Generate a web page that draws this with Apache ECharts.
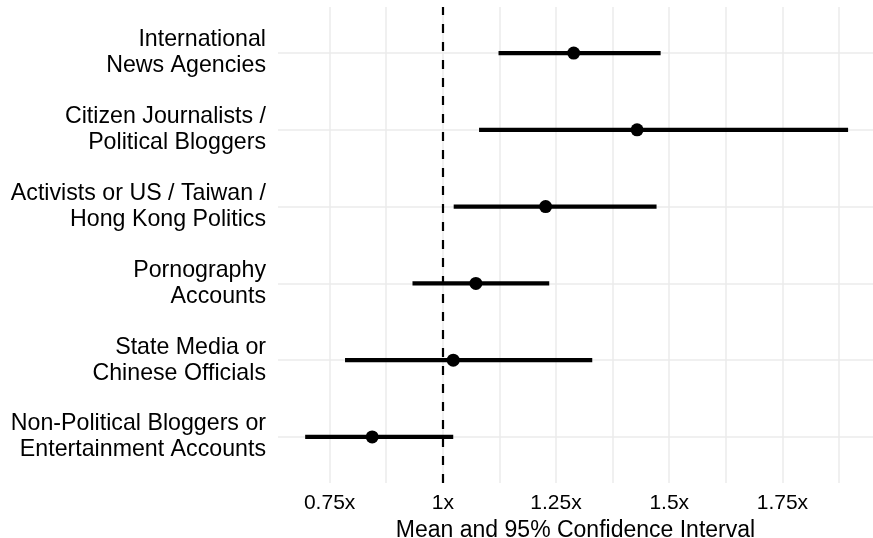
<!DOCTYPE html>
<html><head><meta charset="utf-8">
<script src="https://cdn.jsdelivr.net/npm/echarts@6/dist/echarts.min.js"></script>
<style>html,body{margin:0;padding:0;background:#fff}#c{width:873px;height:538px}</style>
</head><body><div id="c"></div>
<script>
// Categories listed top to bottom
const categories = [
  "International\nNews Agencies",
  "Citizen Journalists /\nPolitical Bloggers",
  "Activists or US / Taiwan /\nHong Kong Politics",
  "Pornography\nAccounts",
  "State Media or\nChinese Officials",
  "Non-Political Bloggers or\nEntertainment Accounts"
];
const means = [1.289, 1.429, 1.227, 1.073, 1.023, 0.844];
const lower = [1.123, 1.080, 1.024, 0.933, 0.784, 0.696];
const upper = [1.481, 1.895, 1.472, 1.235, 1.330, 1.023];
const xTickValues = [0.75, 1, 1.25, 1.5, 1.75];
const xTickLabels = ["0.75x", "1x", "1.25x", "1.5x", "1.75x"];
const xGridValues = [0.75, 0.875, 1, 1.125, 1.25, 1.375, 1.5, 1.625, 1.75, 1.875];
const referenceValue = 1;
const xTitle = "Mean and 95% Confidence Interval";

const n = categories.length;
const yPos = categories.map((_, i) => n - i);
const yTicks = yPos.slice().reverse();
const FONT = '"Liberation Sans", Helvetica, Arial, sans-serif';

const chart = echarts.init(document.getElementById('c'), null, {renderer: 'canvas'});
chart.setOption({
  animation: false,
  backgroundColor: '#ffffff',
  grid: {left: 278, right: 0, top: 7, bottom: 55, containLabel: false, outerBoundsMode: 'none'},
  xAxis: {
    type: 'value', min: 0.636, max: 1.950,
    axisLine: {show: false},
    axisTick: {show: false, customValues: xGridValues},
    splitLine: {show: true, lineStyle: {color: '#EBEBEB', width: 1.5}},
    axisLabel: {
      customValues: xTickValues,
      formatter: v => { const k = xTickValues.findIndex(t => Math.abs(t - v) < 1e-9); return k >= 0 ? xTickLabels[k] : ''; },
      color: '#000', fontSize: 21, fontFamily: FONT, margin: 10
    },
    name: xTitle, nameLocation: 'middle', nameGap: 31,
    nameTextStyle: {color: '#000', fontSize: 23, fontFamily: FONT}
  },
  yAxis: {
    type: 'value', min: 0.4, max: 6.6,
    axisLine: {show: false},
    axisTick: {show: false, customValues: yTicks},
    splitLine: {show: true, lineStyle: {color: '#EBEBEB', width: 1.5}},
    axisLabel: {
      customValues: yTicks,
      formatter: v => { const i = n - Math.round(v); return categories[i] || ''; },
      color: '#000', fontSize: 23.2, lineHeight: 26, fontFamily: FONT, margin: 12, align: 'right',
      padding: [5, 0, 0, 0]
    }
  },
  series: [
    {
      type: 'scatter', data: [], silent: true, z: 1,
      markLine: {
        silent: true, symbol: 'none', animation: false,
        label: {show: false},
        lineStyle: {color: '#000', width: 2.2, type: [9, 9]},
        data: [{xAxis: referenceValue}]
      }
    },
    {
      type: 'custom', z: 2, silent: true,
      data: categories.map((_, i) => [lower[i], upper[i], yPos[i]]),
      encode: {x: [0, 1], y: 2},
      renderItem: (params, api) => {
        const p1 = api.coord([api.value(0), api.value(2)]);
        const p2 = api.coord([api.value(1), api.value(2)]);
        return {type: 'line', shape: {x1: p1[0], y1: p1[1], x2: p2[0], y2: p2[1]},
                style: {stroke: '#000', lineWidth: 4.2, lineCap: 'butt'}};
      }
    },
    {
      type: 'scatter', z: 3, silent: true,
      data: categories.map((_, i) => [means[i], yPos[i]]),
      symbol: 'circle', symbolSize: 13,
      itemStyle: {color: '#000', opacity: 1}
    }
  ]
});
</script></body></html>
